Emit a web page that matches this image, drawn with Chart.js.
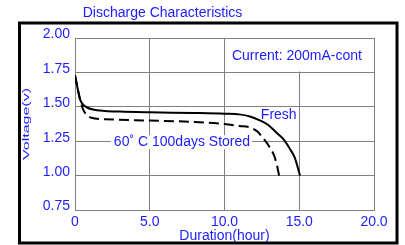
<!DOCTYPE html>
<html>
<head>
<meta charset="utf-8">
<script src="https://cdn.jsdelivr.net/npm/chart.js@4"></script>
<style>
html,body{margin:0;padding:0;background:#fff;}
#wrap{width:405px;height:245px;position:relative;}
</style>
</head>
<body>
<div id="wrap"><canvas id="c"></canvas></div>
<script>
// ---- data ----
const freshX = [0, 0.2, 0.35, 0.6, 0.8, 1.2, 2, 3, 5, 8, 10, 11, 11.7, 12.4, 12.9, 13.5, 13.9, 14.4, 14.7, 15.05];
const freshY = [1.73, 1.62, 1.55, 1.51, 1.495, 1.48, 1.47, 1.465, 1.46, 1.455, 1.45, 1.445, 1.43, 1.40, 1.37, 1.31, 1.27, 1.19, 1.13, 1.00];
const storedX = [0, 0.2, 0.35, 0.55, 0.8, 1.1, 2, 5, 8, 10, 11, 11.7, 12.2, 12.6, 13.0, 13.3, 13.5, 13.65];
const storedY = [1.73, 1.62, 1.55, 1.48, 1.44, 1.42, 1.41, 1.40, 1.39, 1.375, 1.36, 1.35, 1.32, 1.27, 1.21, 1.15, 1.08, 1.00];
const xTickLabels = ['0', '5.0', '10.0', '15.0', '20.0'];
const yTickLabels = ['0.75', '1.00', '1.25', '1.50', '1.75', '2.00'];
const titleText = 'Discharge Characteristics';
const xTitle = 'Duration(hour)';
const yTitle = 'Voltage(v)';
const currentLabel = 'Current: 200mA-cont';
const freshLabel = 'Fresh';
const storedLabel = '60˚ C 100days Stored';

const BLUE = 'rgb(28,28,255)';
const GRID = '#808080';
const FONT = '14px "Liberation Sans", Arial, sans-serif';

function pts(xs, ys){ return xs.map((x,i)=>({x:x, y:ys[i]})); }

const deco = {
  id: 'deco',
  beforeDatasetsDraw(chart){
    const ctx = chart.ctx, xs = chart.scales.x, ys = chart.scales.y;
    ctx.save();
    ctx.fillStyle = '#fff';
    // white box behind "Current" label (upper right cell)
    const x1 = xs.getPixelForValue(10) + 2, x2 = xs.getPixelForValue(20) - 1;
    const y1 = ys.getPixelForValue(2.0) + 1, y2 = ys.getPixelForValue(1.75) - 1;
    ctx.fillRect(x1, y1, x2 - x1, y2 - y1);
    // white box behind stored label
    ctx.font = FONT;
    const sx = xs.getPixelForValue(2.6), sy = ys.getPixelForValue(1.214);
    const w = ctx.measureText(storedLabel).width;
    ctx.fillRect(sx - 3, sy - 11, w + 5, 14);
    ctx.restore();
  },
  afterDraw(chart){
    const ctx = chart.ctx, xs = chart.scales.x, ys = chart.scales.y;
    ctx.save();
    ctx.fillStyle = BLUE;
    ctx.font = FONT;
    ctx.textBaseline = 'alphabetic';
    ctx.textAlign = 'center';
    ctx.fillText(titleText, 162.5, 17);
    ctx.fillText(xTitle, (xs.left + xs.right) / 2, 240);
    ctx.textAlign = 'left';
    ctx.fillText(currentLabel, xs.getPixelForValue(10.5), ys.getPixelForValue(1.837));
    ctx.fillText(freshLabel, xs.getPixelForValue(12.43), ys.getPixelForValue(1.411));
    ctx.fillText(storedLabel, xs.getPixelForValue(2.6), ys.getPixelForValue(1.214));
    // vertical y title (condensed like the reference)
    ctx.save();
    ctx.translate(29, (ys.top + ys.bottom) / 2);
    ctx.rotate(-Math.PI / 2);
    const tw = ctx.measureText(yTitle).width;
    ctx.scale(72 / tw, 0.68);
    ctx.textAlign = 'center';
    ctx.fillText(yTitle, 0, 0);
    ctx.restore();
    // outer frame
    ctx.strokeStyle = '#000';
    ctx.lineWidth = 3;
    ctx.strokeRect(19.5, 23, 377.5, 220);
    ctx.restore();
  }
};

new Chart(document.getElementById('c'), {
  type: 'line',
  data: {
    datasets: [
      { label: 'Fresh', data: pts(freshX, freshY), borderColor: '#000', borderWidth: 2,
        pointRadius: 0, fill: false, cubicInterpolationMode: 'monotone' },
      { label: 'Stored', data: pts(storedX, storedY), borderColor: '#000', borderWidth: 2,
        borderDash: [10, 5], pointRadius: 0, fill: false, cubicInterpolationMode: 'monotone' }
    ]
  },
  options: {
    responsive: true,
    maintainAspectRatio: false,
    animation: false,
    events: [],
    layout: { padding: { left: 0, right: 31, top: 38, bottom: 0 } },
    plugins: { legend: { display: false }, tooltip: { enabled: false }, title: { display: false } },
    scales: {
      x: {
        type: 'linear', min: 0, max: 20,
        afterFit(s){ s.height = 35; },
        afterBuildTicks(s){ s.ticks = xTickLabels.map((_, i) => ({ value: i * 5 })); },
        ticks: { stepSize: 5, color: BLUE, font: { family: '"Liberation Sans", Arial, sans-serif', size: 14 },
          padding: 4, maxRotation: 0, callback: (v, i) => xTickLabels[i] },
        grid: { color: GRID, lineWidth: 1, drawTicks: false },
        border: { color: GRID, width: 1 }
      },
      y: {
        type: 'linear', min: 0.75, max: 2.0,
        afterFit(s){ s.width = 75; },
        afterBuildTicks(s){ s.ticks = yTickLabels.map((_, i) => ({ value: 0.75 + i * 0.25 })); },
        ticks: { stepSize: 0.25, color: BLUE, font: { family: '"Liberation Sans", Arial, sans-serif', size: 14 },
          padding: 5, labelOffset: -3.5, callback: (v, i) => yTickLabels[i] },
        grid: { color: GRID, lineWidth: 1, drawTicks: false },
        border: { color: GRID, width: 1 }
      }
    }
  },
  plugins: [deco]
});
</script>
</body>
</html>
